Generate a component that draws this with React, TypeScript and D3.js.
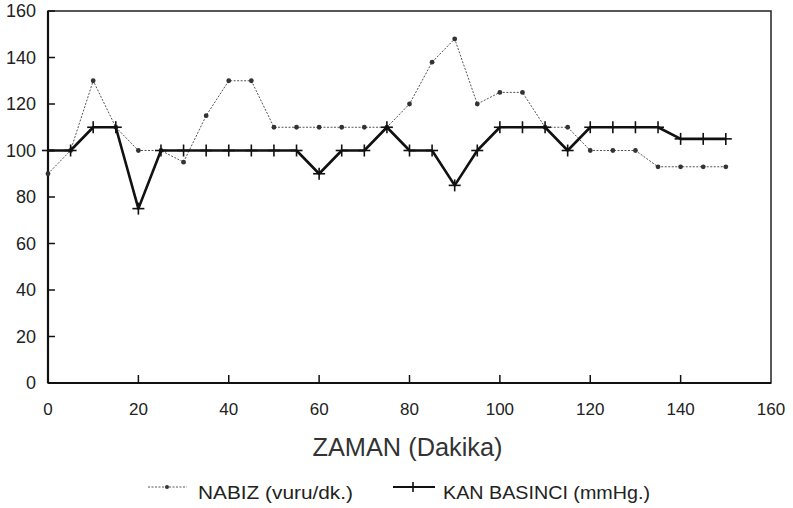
import { useMemo } from "react";
import * as d3 from "d3";

const MINUTES = [0, 5, 10, 15, 20, 25, 30, 35, 40, 45, 50, 55, 60, 65, 70, 75, 80, 85, 90, 95, 100, 105, 110, 115, 120, 125, 130, 135, 140, 145, 150];
const NABIZ = [90, 100, 130, 110, 100, 100, 95, 115, 130, 130, 110, 110, 110, 110, 110, 110, 120, 138, 148, 120, 125, 125, 110, 110, 100, 100, 100, 93, 93, 93, 93];
const KAN_BASINCI = [100, 100, 110, 110, 75, 100, 100, 100, 100, 100, 100, 100, 90, 100, 100, 110, 100, 100, 85, 100, 110, 110, 110, 100, 110, 110, 110, 110, 105, 105, 105];
const X_TICKS = [0, 20, 40, 60, 80, 100, 120, 140, 160];
const Y_TICKS = [0, 20, 40, 60, 80, 100, 120, 140, 160];

const W = 793;
const H = 508;
const MARGIN = { top: 11, right: 22, bottom: 125, left: 48 };
const SANS = "'Liberation Sans', Arial, sans-serif";

export default function App() {
  const boundsW = W - MARGIN.left - MARGIN.right;
  const boundsH = H - MARGIN.top - MARGIN.bottom;

  const x = useMemo(() => d3.scaleLinear().domain([0, 160]).range([0, boundsW]), [boundsW]);
  const y = useMemo(() => d3.scaleLinear().domain([0, 160]).range([boundsH, 0]), [boundsH]);

  const line = d3
    .line<number>()
    .x((_, i) => x(MINUTES[i]))
    .y((d) => y(d));

  const plus = (cx: number, cy: number, s: number, key: string | number, sw = 1.6) => (
    <g key={key} stroke="#111" strokeWidth={sw}>
      <line x1={cx - s} x2={cx + s} y1={cy} y2={cy} />
      <line x1={cx} x2={cx} y1={cy - s} y2={cy + s} />
    </g>
  );

  return (
    <div style={{ position: "absolute", left: 0, top: 0 }}>
      <svg width={W} height={H} style={{ display: "block", background: "#fff" }}>
        <g transform={`translate(${MARGIN.left},${MARGIN.top})`}>
          {/* frame */}
          <rect x={0} y={0} width={boundsW} height={boundsH} fill="none" stroke="#222" strokeWidth={1.5} />
          <line x1={0} x2={0} y1={0} y2={boundsH} stroke="#111" strokeWidth={2.2} />
          <line x1={0} x2={boundsW} y1={boundsH} y2={boundsH} stroke="#111" strokeWidth={2.2} />

          {/* y axis */}
          {Y_TICKS.map((t) => (
            <g key={t} transform={`translate(0,${y(t)})`}>
              <line x1={0} x2={7} stroke="#111" strokeWidth={1.5} />
              <text x={-12} dy="0.36em" textAnchor="end" fontFamily={SANS} fontSize={18} fill="#222">
                {t}
              </text>
            </g>
          ))}

          {/* x axis */}
          {X_TICKS.map((t) => (
            <g key={t} transform={`translate(${x(t)},${boundsH})`}>
              {t > 0 && t < 160 && <line y1={0} y2={-8} stroke="#111" strokeWidth={1.5} />}
              <text y={32} textAnchor="middle" fontFamily={SANS} fontSize={17} fill="#222">
                {t}
              </text>
            </g>
          ))}
          <text
            x={x(80) - 2}
            y={boundsH + 73}
            textAnchor="middle"
            fontFamily={SANS}
            fontSize={25}
            fill="#333"
            textLength={190}
            lengthAdjust="spacingAndGlyphs"
          >
            ZAMAN (Dakika)
          </text>

          {/* NABIZ */}
          <path d={line(NABIZ) ?? ""} fill="none" stroke="#555" strokeWidth={1} strokeDasharray="2,1.5" />
          {NABIZ.map((v, i) => (
            <circle key={i} cx={x(MINUTES[i])} cy={y(v)} r={2.4} fill="#333" />
          ))}

          {/* KAN BASINCI */}
          <path d={line(KAN_BASINCI) ?? ""} fill="none" stroke="#111" strokeWidth={2.6} strokeLinejoin="round" />
          {KAN_BASINCI.map((v, i) => plus(x(MINUTES[i]), y(v), 6, i))}
        </g>

        {/* legend */}
        <g>
          <line x1={148} x2={187} y1={487} y2={487} stroke="#555" strokeWidth={1} strokeDasharray="2,1.5" />
          <circle cx={167} cy={487} r={2} fill="#333" />
          <text x={198} y={499} fontFamily={SANS} fontSize={19} fill="#222" textLength={155} lengthAdjust="spacingAndGlyphs">
            NABIZ (vuru/dk.)
          </text>
          <line x1={393} x2={435} y1={487} y2={487} stroke="#111" strokeWidth={1.8} />
          {plus(413, 487, 5, "lg")}
          <text x={443} y={499} fontFamily={SANS} fontSize={19} fill="#222" textLength={207} lengthAdjust="spacingAndGlyphs">
            KAN BASINCI (mmHg.)
          </text>
        </g>
      </svg>
    </div>
  );
}
